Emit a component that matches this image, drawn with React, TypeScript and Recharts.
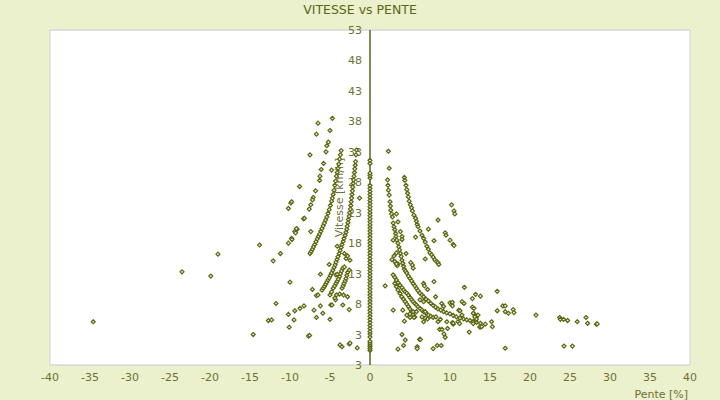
import React from "react";
import {
  ScatterChart,
  Scatter,
  XAxis,
  YAxis,
  CartesianGrid,
  ReferenceLine,
  ReferenceArea,
} from "recharts";

// Nuage VITESSE vs PENTE : pente [%] en x, vitesse [km/h] en y.
// Axe des vitesses trace sur x = 0, bandes grises alternees.

const xTicks = [-40, -35, -30, -25, -20, -15, -10, -5, 0, 5, 10, 15, 20, 25, 30, 35, 40];
const yTicks = [-2, 3, 8, 13, 18, 23, 28, 33, 38, 43, 48, 53];
const yTickLabels = ["3", "3", "8", "13", "18", "23", "28", "33", "38", "43", "48", "53"];

// vitesses relevees a pente nulle
const vitessesPenteNulle = [
  0.4, 0.7, 1.0, 1.3, 1.6, 1.9, 2.6, 3.1, 3.5, 4.0, 4.5, 5.0, 5.5, 6.0, 6.5, 7.0,
  7.5, 8.0, 8.5, 9.0, 9.5, 10.0, 10.5, 11.0, 11.5, 12.0, 12.5, 13.0, 13.5, 14.0,
  14.5, 15.0, 15.5, 16.0, 16.5, 17.0, 17.5, 18.0, 18.5, 19.0, 19.5, 20.0, 20.5,
  21.0, 21.5, 22.0, 22.5, 23.0, 23.5, 24.0, 24.5, 25.0, 25.5, 26.0, 26.5, 27.0,
  27.5, 28.7, 29.1, 29.5, 31.1, 31.6,
];

// [pente, vitesse]
const descenteCourbeExt = [
  [-7.5, 16.3], [-7.35, 16.65], [-7.2, 17.0], [-7.05, 17.4], [-6.9, 17.8], [-6.75, 18.25],
  [-6.6, 18.7], [-6.45, 19.1], [-6.3, 19.5], [-6.15, 19.95], [-6.0, 20.4], [-5.85, 20.85],
  [-5.7, 21.3], [-5.55, 21.8], [-5.4, 22.3], [-5.25, 22.9], [-5.1, 23.5], [-4.95, 24.2],
  [-4.8, 24.9], [-4.7, 25.4], [-4.6, 26.0], [-4.5, 26.7], [-4.4, 27.5], [-4.3, 28.2],
  [-4.2, 29.0], [-4.1, 29.6], [-4.0, 30.3], [-3.9, 31.0], [-3.8, 31.8], [-3.7, 32.5],
  [-3.6, 33.2],
];

const descenteCourbeInt = [
  [-6.0, 10.3], [-5.85, 10.6], [-5.7, 10.9], [-5.55, 11.25], [-5.4, 11.6], [-5.25, 11.95],
  [-5.1, 12.3], [-4.95, 12.7], [-4.8, 13.1], [-4.65, 13.55], [-4.5, 14.0], [-4.35, 14.45],
  [-4.25, 14.9], [-4.1, 15.35], [-4.0, 15.8], [-3.85, 16.3], [-3.75, 16.8], [-3.6, 17.3],
  [-3.5, 17.8], [-3.35, 18.3], [-3.25, 18.8], [-3.1, 19.3], [-3.0, 19.8], [-2.9, 20.3],
  [-2.85, 20.8], [-2.75, 21.35], [-2.7, 21.9], [-2.6, 22.45], [-2.55, 23.0], [-2.45, 23.6],
  [-2.4, 24.2], [-2.35, 24.8], [-2.3, 25.4], [-2.25, 26.0], [-2.2, 26.6], [-2.15, 27.2],
  [-2.1, 27.8], [-2.05, 28.4], [-2.0, 29.0], [-1.95, 29.6], [-1.9, 30.2], [-1.85, 30.8],
  [-1.8, 31.4], [-1.75, 32.5], [-1.7, 33.3],
];

const descentePetitesCourbes = [
  [-5.0, 9.5], [-4.8, 10.0], [-4.6, 10.6], [-4.4, 11.0], [-4.25, 11.4], [-4.1, 11.75],
  [-3.96, 12.1], [-3.8, 12.55], [-3.7, 13.0], [-3.55, 13.45], [-3.4, 13.9], [-3.2, 14.1],
  [-3.5, 10.6], [-3.35, 11.0], [-3.25, 11.4], [-3.1, 11.8], [-3.0, 12.2], [-2.9, 12.7],
  [-2.8, 13.2], [-2.6, 13.6],
];

const descenteNuage = [
  [-34.6, 5.1], [-23.5, 13.3], [-19.9, 12.6], [-19.0, 16.2], [-13.8, 17.7], [-14.6, 3.0],
  [-12.7, 5.3], [-12.3, 5.4], [-12.1, 15.1], [-11.75, 8.1], [-11.2, 16.3], [-10.2, 18.0],
  [-9.8, 18.8], [-9.75, 18.6], [-9.4, 19.9], [-9.3, 19.7], [-9.1, 20.3], [-7.4, 19.9],
  [-10.0, 11.6], [-10.1, 4.2], [-9.5, 5.4], [-10.2, 6.3], [-9.4, 6.9], [-8.75, 7.3],
  [-8.25, 7.7], [-7.7, 2.75], [-7.55, 2.85], [-7.2, 10.4], [-6.7, 9.4], [-6.5, 9.5],
  [-7.0, 7.0], [-6.7, 5.8], [-5.9, 6.5], [-6.2, 7.7], [-5.0, 5.5], [-4.9, 7.85],
  [-4.75, 7.85], [-4.3, 8.7], [-3.4, 7.85], [-2.6, 7.1], [-3.8, 9.65], [-3.3, 9.5],
  [-2.8, 9.2], [-5.1, 14.5], [-6.2, 12.9], [-4.1, 17.5], [-3.75, 1.3], [-3.5, 1.0],
  [-2.6, 1.45], [-1.6, 0.8], [-4.25, 12.8], [-4.1, 12.9], [-2.5, 15.2], [-3.0, 15.5],
  [-2.8, 15.9], [-3.2, 16.3], [-4.4, 9.0], [-4.2, 9.5], [-2.5, 1.6],
  [-4.7, 38.5], [-6.5, 37.7], [-5.0, 36.5], [-6.7, 35.9], [-5.2, 34.6], [-5.4, 34.0],
  [-5.5, 33.0], [-7.5, 32.5], [-5.8, 31.1], [-6.1, 30.1], [-4.8, 30.0], [-6.25, 29.0],
  [-6.3, 28.3], [-8.8, 27.3], [-6.8, 26.6], [-7.1, 25.5], [-7.2, 25.1], [-7.4, 24.3],
  [-7.6, 23.6], [-9.9, 24.6], [-9.8, 24.8], [-10.2, 23.7], [-8.3, 22.0], [-8.2, 22.1],
  [-9.2, 20.4], [-1.3, 25.4],
];

const monteeCourbePrincipale = [
  [2.2, 28.4], [2.25, 27.5], [2.3, 26.7], [2.4, 25.9], [2.5, 24.8], [2.55, 24.1],
  [2.6, 23.4], [2.7, 22.8], [2.8, 22.3], [2.9, 21.3], [3.0, 20.7], [3.1, 20.2],
  [3.2, 19.6], [3.25, 19.1], [3.35, 18.5], [3.5, 18.0], [3.6, 17.4], [3.7, 16.9],
  [3.8, 16.3], [3.9, 15.8], [4.0, 15.2], [4.1, 14.7], [4.2, 14.2], [4.3, 13.7],
  [4.45, 13.4], [4.6, 13.1], [4.8, 12.6], [5.0, 12.2], [5.2, 11.8], [5.4, 11.4],
  [5.6, 11.0], [5.8, 10.6], [6.0, 10.2], [6.25, 9.8], [6.5, 9.5], [6.7, 9.2],
  [7.0, 8.8], [7.3, 8.5], [7.6, 8.1], [7.9, 7.8], [8.2, 7.5], [8.5, 7.2],
  [8.85, 7.0], [9.2, 6.75], [9.6, 6.55], [10.0, 6.4], [10.4, 6.15], [10.8, 5.9],
  [11.25, 5.7], [11.7, 5.55], [12.1, 5.4], [12.5, 5.3], [12.9, 5.15], [13.3, 5.0],
  [13.8, 4.85], [14.4, 4.7],
];

const monteeCourbeHaute = [
  [4.3, 28.8], [4.35, 28.3], [4.5, 27.5], [4.6, 26.8], [4.7, 26.2], [4.8, 25.6],
  [4.9, 24.9], [5.05, 24.3], [5.2, 23.8], [5.3, 23.3], [5.5, 22.6], [5.7, 22.1],
  [5.8, 21.6], [5.9, 21.1], [6.0, 20.7], [6.25, 20.0], [6.5, 19.3], [6.7, 18.8],
  [6.9, 18.2], [7.1, 17.5], [7.3, 17.0], [7.5, 16.4], [7.7, 16.1], [7.9, 15.7],
  [8.1, 15.3], [8.3, 15.0],
];

const monteeCourbesBasses = [
  [2.9, 12.8], [3.1, 12.4], [3.3, 11.95], [3.5, 11.5], [3.75, 11.1], [4.0, 10.7],
  [4.2, 10.3], [4.4, 10.0], [4.6, 9.8], [4.8, 9.45], [5.0, 9.1], [5.2, 8.75],
  [5.4, 8.4], [5.6, 8.1], [5.8, 7.85], [6.0, 7.55], [6.25, 7.3], [6.5, 7.0],
  [6.7, 6.75], [7.0, 6.5], [7.3, 6.2], [7.6, 6.0], [7.9, 5.8],
  [3.1, 11.4], [3.3, 10.85], [3.5, 10.3], [3.75, 9.75], [3.96, 9.2], [4.2, 8.8],
  [4.4, 8.4], [4.6, 8.0], [4.8, 7.6], [5.0, 7.2], [5.2, 6.75], [5.4, 6.3], [5.6, 5.9],
];

const monteeNuage = [
  [2.3, 33.1], [2.4, 30.3], [3.3, 22.8], [3.5, 21.5], [3.8, 19.9], [4.0, 19.1],
  [4.0, 18.6], [2.9, 18.5], [3.3, 16.4], [3.0, 15.9], [2.75, 15.3], [3.25, 14.7],
  [3.5, 14.6], [3.4, 14.3], [4.5, 16.3], [5.7, 19.0], [7.3, 20.3], [8.0, 18.4],
  [8.5, 21.8], [6.9, 15.4], [8.5, 14.8], [8.6, 14.5], [5.1, 14.8], [5.3, 14.4],
  [5.4, 13.9], [10.2, 24.3], [10.5, 23.3], [10.6, 22.8], [9.4, 19.7], [9.5, 19.3],
  [10.0, 18.5], [10.4, 17.8], [10.5, 17.6], [3.1, 15.0], [3.3, 14.6],
  [1.9, 11.0], [2.9, 7.0], [4.3, 5.2], [4.0, 3.0], [4.4, 2.1], [3.5, 0.6], [4.2, 1.2],
  [6.2, 2.2], [6.3, 2.2], [5.9, 1.0], [5.9, 0.7], [7.9, 0.7], [8.4, 1.2], [8.9, 1.2],
  [8.7, 3.85], [9.0, 3.85], [9.25, 3.1], [9.4, 2.55], [9.7, 4.0], [10.3, 4.95],
  [11.0, 5.1], [12.4, 3.4], [12.9, 4.8], [13.25, 5.4], [13.75, 4.2], [11.8, 10.75],
  [12.8, 8.9], [13.2, 9.6], [13.8, 9.3], [11.5, 8.4], [11.75, 8.1], [10.0, 8.2],
  [10.2, 7.95], [11.1, 7.0], [12.8, 7.5], [13.0, 7.3], [13.0, 6.4], [13.25, 5.9],
  [8.0, 11.7], [6.7, 11.4], [6.8, 11.0], [7.2, 10.4], [8.2, 9.2], [8.96, 8.1],
  [9.2, 7.6], [9.6, 5.1], [10.4, 4.7], [11.2, 4.8], [6.7, 5.1], [6.9, 5.7], [6.5, 5.9],
  [5.5, 5.8], [5.0, 5.8], [4.6, 6.2], [4.1, 7.0], [5.0, 6.4], [5.4, 6.75], [5.8, 6.75],
  [6.7, 8.4], [6.25, 8.7], [6.9, 6.75], [7.2, 5.55], [8.25, 5.9], [8.5, 5.1], [8.8, 5.5],
  [15.9, 10.1], [10.3, 8.3], [16.6, 7.7], [16.9, 7.7], [17.9, 7.1], [18.0, 6.6],
  [15.9, 6.9], [16.9, 6.75], [17.3, 6.5], [20.75, 6.2], [23.7, 5.8], [23.8, 5.5],
  [24.2, 5.5], [24.7, 5.3], [25.9, 5.1], [27.0, 5.8], [27.2, 4.85], [28.3, 4.7],
  [28.4, 4.75], [12.9, 6.5], [13.1, 5.9], [13.5, 6.2], [13.3, 5.55], [10.4, 4.85],
  [13.75, 4.3], [13.96, 4.3], [15.2, 5.1], [15.3, 4.3], [11.25, 6.9], [11.5, 6.2],
  [10.3, 7.7], [16.9, 0.75], [24.25, 1.1], [25.3, 1.1],
];

const OLIVE = "#5b6614";
const TEXTE = "#6f7034";
const FOND = "#ebf0cd";
const X_ZERO = 370; // abscisse pixel de pente = 0 (50 + 640 / 2)

const enPoints = (liste) => liste.map(([pente, vitesse]) => ({ pente, vitesse }));

const series = [
  vitessesPenteNulle.map((vitesse) => ({ pente: 0, vitesse })),
  enPoints(descenteCourbeExt),
  enPoints(descenteCourbeInt),
  enPoints(descentePetitesCourbes),
  enPoints(descenteNuage),
  enPoints(monteeCourbePrincipale),
  enPoints(monteeCourbeHaute),
  enPoints(monteeCourbesBasses),
  enPoints(monteeNuage),
];

function Losange(props) {
  const { cx, cy } = props;
  if (cx == null || cy == null) return null;
  const r = 2;
  return (
    <path
      d={`M${cx},${cy - r}L${cx + r},${cy}L${cx},${cy + r}L${cx - r},${cy}Z`}
      fill="#eef0c8"
      stroke={OLIVE}
      strokeWidth={1.2}
    />
  );
}

function TickPente(props) {
  const { x, y, payload } = props;
  return (
    <text x={x} y={y} dy="0.71em" textAnchor="middle" fontSize={11} fill={TEXTE}>
      {payload.value}
    </text>
  );
}

function LabelVitesse(props) {
  const vb = props.viewBox || {};
  const cx = (vb.x ?? X_ZERO) - 31;
  const cy = (vb.y ?? 30) + (vb.height ?? 335) / 2;
  return (
    <text
      x={cx}
      y={cy}
      transform={`rotate(-90, ${cx}, ${cy})`}
      textAnchor="middle"
      dominantBaseline="central"
      fontSize={11}
      fill={TEXTE}
    >
      Vitesse [km/h]
    </text>
  );
}

// etiquettes de l'axe des vitesses, posees le long de la droite pente = 0
function LabelsVitesse(props) {
  const vb = props.viewBox || {};
  const top = vb.y ?? 30;
  const h = vb.height ?? 335;
  const x = (vb.x ?? X_ZERO) - 8;
  return (
    <g>
      {yTicks.map((v, i) => {
        const y = top + h - ((v - yTicks[0]) / (yTicks[yTicks.length - 1] - yTicks[0])) * h;
        return (
          <text key={v} x={x} y={y} dy="0.36em" textAnchor="end" fontSize={11} fill={TEXTE}>
            {yTickLabels[i]}
          </text>
        );
      })}
      <LabelVitesse viewBox={vb} />
    </g>
  );
}

export default function App() {
  return (
    <div
      style={{
        position: "absolute",
        left: 0,
        top: 0,
        width: 720,
        height: 400,
        background: FOND,
        fontFamily: "'DejaVu Sans', sans-serif",
      }}
    >
      <div
        style={{
          position: "absolute",
          top: 2,
          width: 720,
          textAlign: "center",
          fontSize: 12.5,
          color: OLIVE,
        }}
      >
        VITESSE vs PENTE
      </div>
      <ScatterChart
        width={720}
        height={400}
        margin={{ top: 30, right: 30, bottom: 0, left: 49 }}
        style={{ fontFamily: "'DejaVu Sans', sans-serif" }}
      >
        <CartesianGrid
          vertical={false}
          stroke="#dcdcdc"
          horizontalFill={["#ffffff", "#f2f2f2"]}
          fillOpacity={1}
        />
        <ReferenceArea
          x1={-40}
          x2={40}
          y1={-2}
          y2={53}
          fill="none"
          fillOpacity={0}
          stroke="#d5d5d5"
          strokeOpacity={1}
        />
        <XAxis
          type="number"
          dataKey="pente"
          domain={[-40, 40]}
          ticks={xTicks}
          interval={0}
          height={35}
          axisLine={false}
          tickLine={false}
          tick={<TickPente />}
          label={{
            value: "Pente [%]",
            position: "insideBottomRight",
            offset: 2,
            fontSize: 11,
            fill: TEXTE,
          }}
        />
        <YAxis
          type="number"
          dataKey="vitesse"
          domain={[-2, 53]}
          ticks={yTicks}
          interval={0}
          width={1}
          axisLine={false}
          tickLine={false}
          tick={false}
        />
        <ReferenceLine x={0} stroke={OLIVE} strokeWidth={1.5} label={<LabelsVitesse />} />
        {series.map((data, i) => (
          <Scatter
            key={i}
            data={data}
            shape={<Losange />}
            isAnimationActive={false}
          />
        ))}
      </ScatterChart>
    </div>
  );
}
